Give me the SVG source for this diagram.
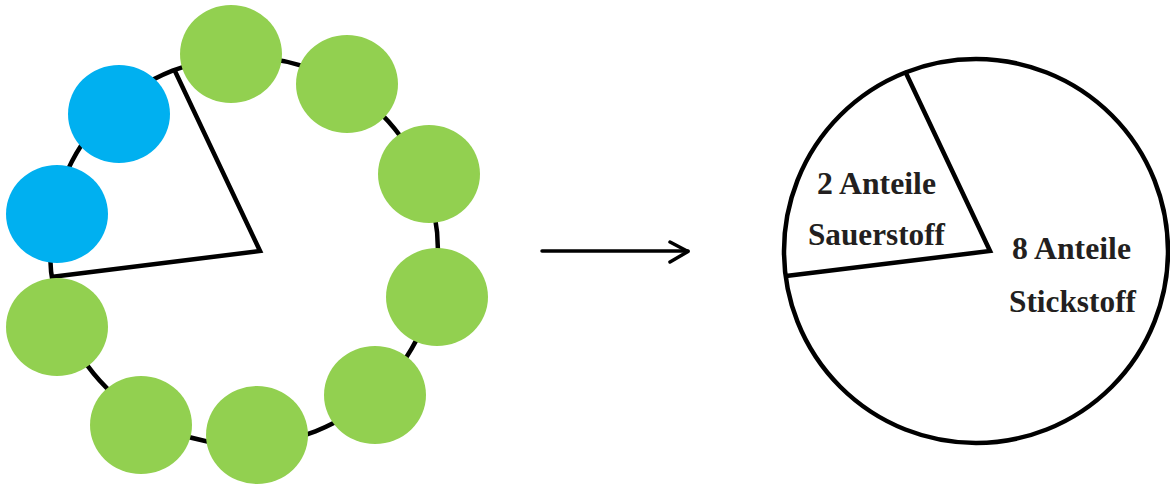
<svg xmlns="http://www.w3.org/2000/svg" width="1170" height="484" viewBox="0 0 1170 484">
<style>
.ring{fill:none;stroke:#000;stroke-width:4.5}
.sec{fill:none;stroke:#000;stroke-width:4.5;stroke-linejoin:miter;stroke-linecap:butt}
.g{fill:#92d050}
.b{fill:#00b0f0}
.lbl{font-family:"Liberation Serif","Times New Roman",serif;font-weight:bold;font-size:31.5px;fill:#231f20}
.arr{fill:none;stroke:#000;stroke-width:3.5;stroke-linecap:round;stroke-linejoin:round}
</style>
<rect width="1170" height="484" fill="#fff"/>
<g id="ring-model">
  <circle class="ring" cx="244" cy="251" r="194"/>
  <polyline class="sec" points="174,69 260,251 51,277"/>
  <ellipse class="g" cx="231" cy="54" rx="51" ry="49"/>
  <ellipse class="g" cx="347" cy="84" rx="51" ry="49"/>
  <ellipse class="g" cx="429" cy="174" rx="51" ry="49"/>
  <ellipse class="g" cx="437" cy="297" rx="51" ry="49"/>
  <ellipse class="g" cx="375" cy="395" rx="51" ry="49"/>
  <ellipse class="g" cx="257" cy="435" rx="51" ry="49"/>
  <ellipse class="g" cx="141" cy="425" rx="51" ry="49"/>
  <ellipse class="g" cx="57" cy="327" rx="51" ry="49"/>
  <ellipse class="b" cx="57" cy="214" rx="51" ry="49"/>
  <ellipse class="b" cx="119" cy="114" rx="51" ry="49"/>
</g>
<g id="connectors">
  <line class="arr" x1="542" y1="251" x2="688" y2="251"/>
  <polyline class="arr" points="670,242 688,251.5 670,262"/>
</g>
<g id="pie-chart">
  <circle class="ring" cx="976" cy="251" r="192" stroke-width="4"/>
  <polyline class="sec" points="905,71 990,251 786,276"/>
  <text class="lbl" x="817" y="194" textLength="119" lengthAdjust="spacingAndGlyphs">2 Anteile</text>
  <text class="lbl" x="808" y="245" textLength="137" lengthAdjust="spacingAndGlyphs">Sauerstoff</text>
  <text class="lbl" x="1012" y="259" textLength="119" lengthAdjust="spacingAndGlyphs">8 Anteile</text>
  <text class="lbl" x="1009" y="312" textLength="127" lengthAdjust="spacingAndGlyphs">Stickstoff</text>
</g>
</svg>
